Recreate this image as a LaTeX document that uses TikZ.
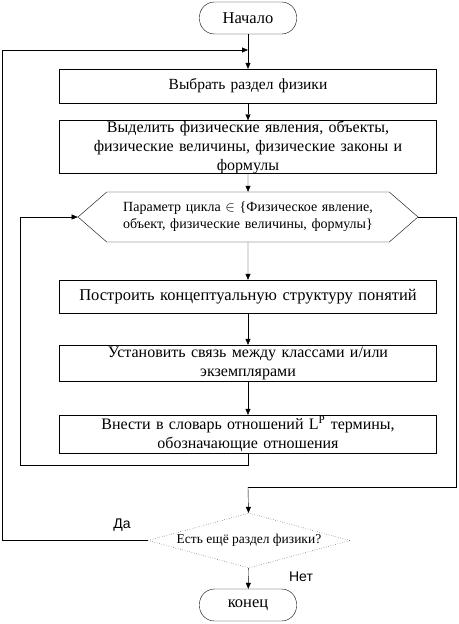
\documentclass[tikz,border=0pt]{standalone}
\usepackage{fontspec}
\setmainfont{Liberation Serif}
\newfontfamily\answerfont{Liberation Sans}
\usetikzlibrary{shapes.geometric,shapes.symbols,arrows.meta}
\tikzset{block/.style={draw, minimum width=377pt, text width=370pt, align=center, inner sep=0, font=\fontsize{16}{19}\selectfont}}
\tikzset{term/.style={draw, rounded corners=15pt, minimum width=97pt, minimum height=32pt, font=\fontsize{16.5}{19}\selectfont}}
\tikzset{loophead/.style={draw, signal, signal to=west and east, signal pointer angle=82, minimum width=340pt, minimum height=50pt, inner sep=0, text width=262pt, align=center, font=\fontsize{14}{17}\selectfont}}
\tikzset{test/.style={draw, dotted, diamond, aspect=3.7, minimum width=202pt, minimum height=55pt, inner sep=0, font=\fontsize{13.5}{15}\selectfont}}
\tikzset{flow/.style={-{Triangle[length=6pt,width=5pt]}}}

\begin{document}
\begin{tikzpicture}[x=1pt, y=-1pt]
  \useasboundingbox (0,0) rectangle (458,624);

  \node[term] at (248, 18) (start) {Начало};
  \node[block, minimum height=34pt, font=\fontsize{15.5}{19}\selectfont] at (248, 86) (choose) {Выбрать раздел физики};
  \node[block, minimum height=52pt] at (248, 147) (select) {Выделить физические явления, объекты,\\ физические величины, физические законы и\\ формулы};

  % loop over the parameter
  \node[loophead] at (248, 217) (param) {Параметр цикла $\in$ \{Физическое явление,\\ объект, физические величины, формулы\}};
  \node[block, minimum height=33pt, font=\fontsize{16.5}{19}\selectfont] at (248, 296.5) (build) {Построить концептуальную структуру понятий};
  \node[block, minimum height=36pt] at (248, 363) (link) {Установить связь между классами и/или\\ экземплярами};
  \node[block, minimum height=38pt] at (248, 434) (enter) {Внести в словарь отношений L\textsuperscript{P} термины,\\ обозначающие отношения};

  \node[test] at (249, 540.5) (more) {Есть ещё раздел физики?};
  \node[term] at (248, 605) (stop) {конец};

  \coordinate (join) at (248, 50);
  \coordinate (back) at (248, 465);
  \coordinate (exit) at (248, 487);

  \draw (start) edge[flow] (choose);
  \draw (choose) edge[flow] (select);
  \draw (select) edge[flow] (param);
  \draw (param) edge[flow] (build);
  \draw (build) edge[flow] (link);
  \draw (link) edge[flow] (enter);

  % back to the loop head
  \draw[flow] (enter) -- (back) -- (20, 465) |- (param.west);
  % leaving the loop
  \draw (param.east) -- (456, 217) |- (exit);
  \draw[flow] (exit) -- (more);

  % answers
  \draw[flow] (more.west) -- (2, 540.5) |- (join);
  \draw (more) edge[flow] (stop);
  \node[font=\answerfont\fontsize{14}{16}\selectfont] at (122, 525) (yes) {Да};
  \node[font=\answerfont\fontsize{14}{16}\selectfont] at (301, 577) (no) {Нет};
\end{tikzpicture}
\end{document}
